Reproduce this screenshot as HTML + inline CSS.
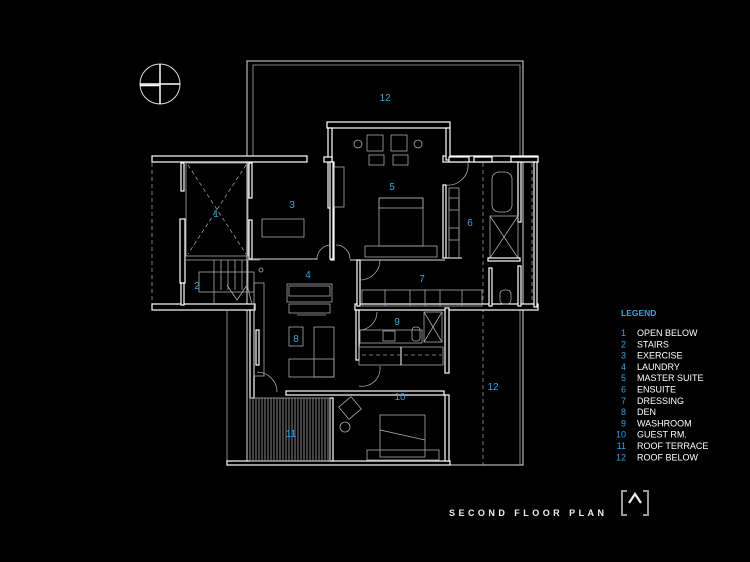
<!DOCTYPE html>
<html><head><meta charset="utf-8"><style>
html,body{margin:0;padding:0;background:#000;width:750px;height:562px;overflow:hidden}
svg{display:block}
.w{fill:#000;stroke:#fff;stroke-width:1.2}
.l{stroke:#ddd;stroke-width:1;fill:none}
.g{stroke:#aaa;stroke-width:.8;fill:none}
.d{stroke:#999;stroke-width:.8;fill:none;stroke-dasharray:4 3}
.n{fill:#2fa4e7;font-family:"Liberation Sans",sans-serif;font-size:10px;text-anchor:middle}
.lg{fill:#fff;font-family:"Liberation Sans",sans-serif;font-size:9px}
.ln{fill:#2fa4e7;font-family:"Liberation Sans",sans-serif;font-size:9px;text-anchor:end}
</style></head><body>
<svg width="750" height="562" viewBox="0 0 750 562">
<circle cx="160" cy="84" r="20" class="l"/>
<line x1="140" y1="84" x2="180" y2="84" stroke="#fff" stroke-width="1.5"/>
<line x1="140" y1="85.5" x2="160" y2="85.5" stroke="#fff" stroke-width="1.5"/>
<line x1="160" y1="64" x2="160" y2="104" stroke="#fff" stroke-width="1.5"/>
<rect x="247" y="61" width="276" height="404" class="l"/>
<polyline points="253,158 253,65 520,65 520,158" class="g"/>
<polyline points="483,308 483,465" class="d"/>
<line x1="483" y1="163" x2="483" y2="306" class="d"/>
<line x1="152" y1="163" x2="152" y2="306" class="d"/>
<line x1="532" y1="163" x2="532" y2="306" class="d"/>
<polyline points="449,308 520,308 520,465" class="g"/>
<rect x="152" y="156" width="155" height="6" class="w"/>
<rect x="443" y="156" width="95" height="6" class="w"/>
<rect x="327" y="122" width="123" height="6" class="w"/>
<rect x="152" y="304" width="103" height="6" class="w"/>
<rect x="355" y="304" width="183" height="6" class="w"/>
<rect x="328" y="128" width="4" height="80" class="w"/>
<rect x="446" y="128" width="4" height="32" class="w"/>
<rect x="324" y="157" width="8" height="5" class="w"/>
<rect x="449" y="157" width="20" height="5" class="w"/>
<rect x="181" y="163" width="3" height="28" class="w"/>
<rect x="180" y="219" width="5" height="64" class="w"/>
<rect x="181" y="283" width="3" height="22" class="w"/>
<rect x="186" y="163" width="62" height="93" class="g"/>
<line x1="188" y1="165" x2="246" y2="254" class="d"/>
<line x1="246" y1="165" x2="188" y2="254" class="d"/>
<rect x="249" y="163" width="3" height="35" class="w"/>
<rect x="249" y="220" width="3" height="39" class="w"/>
<polyline points="252,259 317,259 317,258" class="l"/>
<rect x="262" y="219" width="42" height="18" class="g"/>
<rect x="331" y="162" width="3" height="98" class="w"/>
<rect x="330" y="162" width="3" height="97" class="w"/>
<path d="M317 259 A14 14 0 0 1 331 245" class="g"/>
<path d="M336 245 A14 14 0 0 1 350 259" class="g"/>
<rect x="334" y="167" width="10" height="40" class="g"/>
<rect x="367" y="135" width="16" height="16" class="g"/>
<rect x="391" y="135" width="16" height="16" class="g"/>
<circle cx="358" cy="144" r="4" class="g"/>
<circle cx="418" cy="144" r="4" class="g"/>
<rect x="369" y="155" width="15" height="10" class="g"/>
<rect x="393" y="155" width="15" height="10" class="g"/>
<rect x="379" y="198" width="44" height="48" class="g"/>
<rect x="379" y="198" width="44" height="10" class="g"/>
<rect x="365" y="246" width="72" height="11" class="g"/>
<polyline points="350,260 445,260" class="l"/>
<rect x="443" y="185" width="3" height="73" class="w"/>
<path d="M446 185 A20 20 0 0 0 468 163" class="g"/>
<rect x="449" y="188" width="10" height="70" class="g"/>
<rect x="449" y="198" width="10" height="12" class="g"/>
<rect x="449" y="228" width="10" height="12" class="g"/>
<line x1="446" y1="258" x2="462" y2="258" stroke="#fff"/>
<rect x="474" y="157" width="18" height="5" class="w"/>
<rect x="511" y="157" width="27" height="5" class="w"/>
<rect x="518" y="162" width="3" height="60" class="w"/>
<rect x="518" y="266" width="3" height="40" class="w"/>
<rect x="534" y="162" width="3" height="145" class="w"/>
<rect x="492" y="172" width="20" height="40" rx="7" class="g"/>
<rect x="490" y="216" width="28" height="42" class="g"/>
<line x1="490" y1="216" x2="518" y2="258" class="g"/>
<line x1="518" y1="216" x2="490" y2="258" class="g"/>
<rect x="488" y="258" width="32" height="3" class="w"/>
<rect x="489" y="268" width="3" height="38" class="w"/>
<rect x="500" y="290" width="11" height="14" rx="4" class="g"/>
<rect x="357" y="260" width="3" height="46" class="w"/>
<path d="M360 280 A20 20 0 0 0 380 260" class="g"/>
<rect x="362" y="290" width="120" height="16" class="g"/>
<line x1="385" y1="290" x2="385" y2="306" class="g"/><line x1="410" y1="290" x2="410" y2="306" class="g"/><line x1="425" y1="290" x2="425" y2="306" class="g"/><line x1="440" y1="290" x2="440" y2="306" class="g"/><line x1="462" y1="290" x2="462" y2="306" class="g"/>
<line x1="186" y1="260" x2="260" y2="260" class="g"/>
<rect x="199" y="272" width="55" height="20" class="g"/>
<line x1="214" y1="260" x2="214" y2="304" class="g"/><line x1="221" y1="260" x2="221" y2="290" class="g"/><line x1="228" y1="260" x2="228" y2="290" class="g"/><line x1="235" y1="260" x2="235" y2="290" class="g"/><line x1="242" y1="260" x2="242" y2="290" class="g"/><line x1="248" y1="260" x2="248" y2="290" class="g"/>
<polyline points="227,285 237,300 247,285 252,304" class="g"/>
<circle cx="261" cy="270" r="2" class="g"/>
<line x1="227" y1="310" x2="227" y2="465" class="g"/>
<rect x="250" y="310" width="4" height="88" class="w"/>
<rect x="254" y="283" width="10" height="93" class="g"/>
<rect x="256" y="330" width="3" height="35" class="w"/>
<rect x="227" y="461" width="223" height="4" class="w"/>
<rect x="330" y="398" width="3" height="63" class="w"/>
<rect x="445" y="308" width="4" height="65" class="w"/>
<rect x="445" y="395" width="4" height="66" class="w"/>
<path d="M257 372 A20 20 0 0 1 277 392" class="g"/>
<rect x="286" y="391" width="158" height="4" class="w"/>
<rect x="287" y="284" width="45" height="18" class="g"/>
<rect x="289" y="286" width="41" height="10" class="g"/>
<rect x="289" y="304" width="41" height="9" class="g"/>
<line x1="297" y1="315" x2="326" y2="315" class="g"/>
<rect x="289" y="327" width="14" height="19" class="g"/>
<rect x="314" y="327" width="20" height="50" class="g"/>
<rect x="289" y="359" width="45" height="18" class="g"/>
<rect x="356" y="310" width="3" height="50" class="w"/>
<path d="M359 330 A18 18 0 0 0 377 312" class="g"/>
<rect x="360" y="330" width="62" height="13" class="g"/>
<rect x="383" y="331" width="12" height="10" class="g"/>
<rect x="412" y="327" width="8" height="14" rx="3" class="g"/>
<rect x="424" y="312" width="18" height="30" class="g"/>
<line x1="424" y1="312" x2="442" y2="342" class="g"/><line x1="442" y1="312" x2="424" y2="342" class="g"/>
<rect x="359" y="347" width="84" height="18" class="g"/>
<line x1="401" y1="347" x2="401" y2="365" stroke="#fff"/>
<line x1="362" y1="355" x2="442" y2="355" class="d"/>
<path d="M359 386 A18 18 0 0 0 380 366" class="g"/>
<rect x="380" y="415" width="45" height="42" class="g"/>
<rect x="367" y="450" width="72" height="10" class="g"/>
<line x1="380" y1="430" x2="425" y2="440" class="g"/>
<rect x="342" y="400" width="16" height="16" class="g" transform="rotate(-40 350 408)"/>
<circle cx="345" cy="427" r="5" class="g"/>
<rect x="250" y="398" width="80" height="63" class="g"/>
<g stroke="#bbb" stroke-width=".7">
<line x1="253" y1="398" x2="253" y2="461"/><line x1="256" y1="398" x2="256" y2="461"/><line x1="259" y1="398" x2="259" y2="461"/><line x1="262" y1="398" x2="262" y2="461"/><line x1="265" y1="398" x2="265" y2="461"/><line x1="268" y1="398" x2="268" y2="461"/><line x1="271" y1="398" x2="271" y2="461"/><line x1="274" y1="398" x2="274" y2="461"/><line x1="277" y1="398" x2="277" y2="461"/><line x1="280" y1="398" x2="280" y2="461"/><line x1="283" y1="398" x2="283" y2="461"/><line x1="286" y1="398" x2="286" y2="461"/><line x1="289" y1="398" x2="289" y2="461"/><line x1="292" y1="398" x2="292" y2="461"/><line x1="295" y1="398" x2="295" y2="461"/><line x1="298" y1="398" x2="298" y2="461"/><line x1="301" y1="398" x2="301" y2="461"/><line x1="304" y1="398" x2="304" y2="461"/><line x1="307" y1="398" x2="307" y2="461"/><line x1="310" y1="398" x2="310" y2="461"/><line x1="313" y1="398" x2="313" y2="461"/><line x1="316" y1="398" x2="316" y2="461"/><line x1="319" y1="398" x2="319" y2="461"/><line x1="322" y1="398" x2="322" y2="461"/><line x1="325" y1="398" x2="325" y2="461"/><line x1="328" y1="398" x2="328" y2="461"/>
</g>
<text class="n" x="385" y="101">12</text>
<text class="n" x="392" y="190">5</text>
<text class="n" x="292" y="208">3</text>
<text class="n" x="216" y="217">1</text>
<text class="n" x="470" y="226">6</text>
<text class="n" x="197" y="289">2</text>
<text class="n" x="308" y="278">4</text>
<text class="n" x="422" y="282">7</text>
<text class="n" x="397" y="325">9</text>
<text class="n" x="296" y="342">8</text>
<text class="n" x="400" y="400">10</text>
<text class="n" x="493" y="390">12</text>
<text class="n" x="291" y="437">11</text>
<text x="621" y="316" fill="#2fa4e7" font-family="Liberation Sans,sans-serif" font-size="8.5" font-weight="bold">LEGEND</text>
<g>
<text class="ln" x="626" y="336">1</text><text class="lg" x="637" y="336">OPEN BELOW</text>
<text class="ln" x="626" y="347.3">2</text><text class="lg" x="637" y="347.3">STAIRS</text>
<text class="ln" x="626" y="358.6">3</text><text class="lg" x="637" y="358.6">EXERCISE</text>
<text class="ln" x="626" y="369.9">4</text><text class="lg" x="637" y="369.9">LAUNDRY</text>
<text class="ln" x="626" y="381.2">5</text><text class="lg" x="637" y="381.2">MASTER SUITE</text>
<text class="ln" x="626" y="392.5">6</text><text class="lg" x="637" y="392.5">ENSUITE</text>
<text class="ln" x="626" y="403.8">7</text><text class="lg" x="637" y="403.8">DRESSING</text>
<text class="ln" x="626" y="415.1">8</text><text class="lg" x="637" y="415.1">DEN</text>
<text class="ln" x="626" y="426.4">9</text><text class="lg" x="637" y="426.4">WASHROOM</text>
<text class="ln" x="626" y="437.7">10</text><text class="lg" x="637" y="437.7">GUEST RM.</text>
<text class="ln" x="626" y="449">11</text><text class="lg" x="637" y="449">ROOF TERRACE</text>
<text class="ln" x="626" y="460.3">12</text><text class="lg" x="637" y="460.3">ROOF BELOW</text>
</g>
<text x="449" y="516" fill="#eee" font-family="Liberation Sans,sans-serif" font-size="9" font-weight="bold" textLength="155" lengthAdjust="spacing">SECOND FLOOR PLAN</text>
<polyline points="627,491 622,491 622,515 627,515" fill="none" stroke="#999" stroke-width="2"/>
<polyline points="643,491 648,491 648,515 643,515" fill="none" stroke="#999" stroke-width="2"/>
<polyline points="629,503 635,494 641,503" fill="none" stroke="#eee" stroke-width="2.2"/>
</svg>
</body></html>
